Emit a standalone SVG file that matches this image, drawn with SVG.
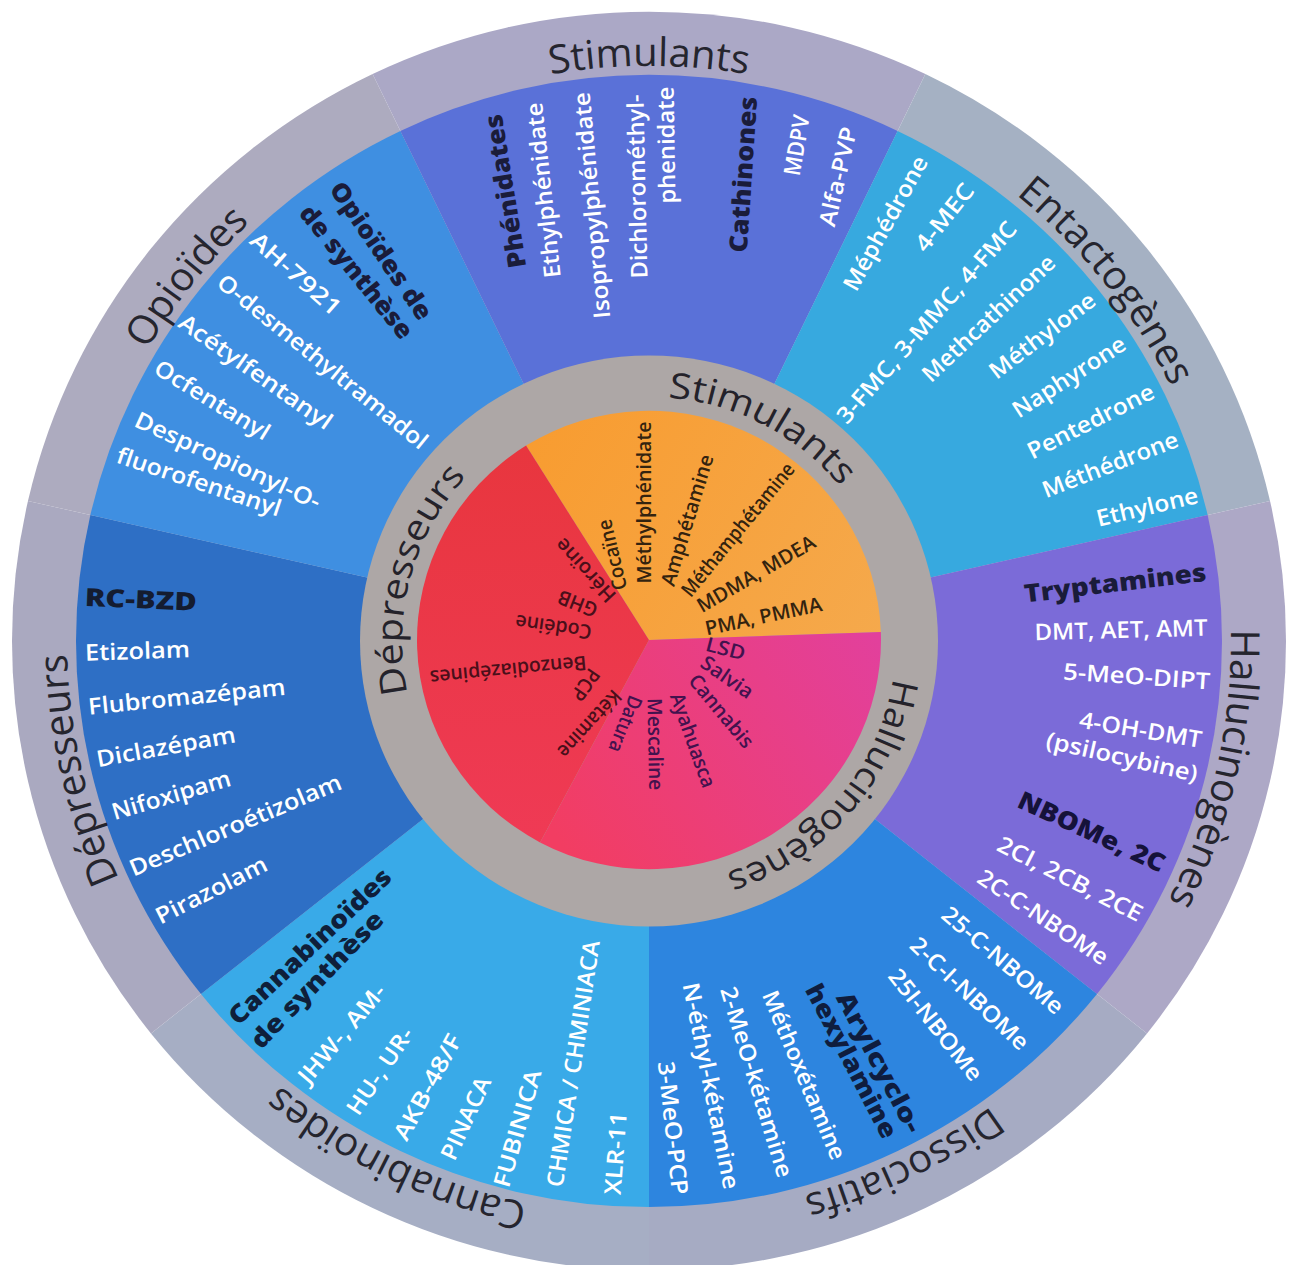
<svg xmlns="http://www.w3.org/2000/svg" width="1296" height="1265" viewBox="0 0 1296 1265">
<defs>
<style>
text{font-family:"Open Sans","Noto Sans","DejaVu Sans",sans-serif;}
.w{fill:#ffffff;font-size:23px;font-weight:600;text-anchor:middle;dominant-baseline:central;}
.h{fill:#1a1c3a;font-size:25px;font-weight:800;text-anchor:middle;dominant-baseline:central;}
.p{font-size:20px;font-weight:600;text-anchor:middle;dominant-baseline:central;}
.po{fill:#33230f;}
.pr{fill:#4a0f1a;}
.pp{fill:#43124e;}
.band{fill:#25252e;font-size:40px;font-weight:400;text-anchor:middle;}
.ring{fill:#24222a;font-size:36px;font-weight:400;text-anchor:middle;}
</style>
<linearGradient id="gOr" x1="520" y1="440" x2="880" y2="640" gradientUnits="userSpaceOnUse">
<stop offset="0" stop-color="#f89c30"/><stop offset="1" stop-color="#f5a94c"/>
</linearGradient>
<linearGradient id="gRd" x1="520" y1="440" x2="540" y2="845" gradientUnits="userSpaceOnUse">
<stop offset="0" stop-color="#e8363e"/><stop offset="1" stop-color="#ef3a55"/>
</linearGradient>
<linearGradient id="gPk" x1="880" y1="640" x2="560" y2="845" gradientUnits="userSpaceOnUse">
<stop offset="0" stop-color="#e2409c"/><stop offset="1" stop-color="#f23d62"/>
</linearGradient>
<path id="aStim" d="M75.84 742.06 A582 582 0 1 1 1222.16 742.06"/>
<path id="aEnt" d="M212.67 255.86 A582 582 0 1 1 927.38 1152.11"/>
<path id="aHal" d="M678.04 59.73 A582 582 0 1 1 422.86 1177.27"/>
<path id="aDis" d="M1121.57 301.29 A582 582 0 1 1 88.74 798.57"/>
<path id="aCan" d="M1209.26 798.58 A582 582 0 1 1 176.43 301.29"/>
<path id="aDep" d="M875.14 1177.27 A582 582 0 1 1 619.96 59.73"/>
<path id="aOpi" d="M370.62 1152.11 A582 582 0 1 1 1085.33 255.86"/>
<path id="iStim" d="M413.56 566.31 A247 247 0 1 1 844.70 791.71"/>
<path id="iDep" d="M627.47 887.06 A247 247 0 1 1 753.39 417.14"/>
<path id="iHal" d="M773.62 427.74 A247 247 0 1 1 458.96 798.78"/>
</defs>
<rect width="1296" height="1265" fill="#ffffff"/>
<g id="wheel" transform="matrix(1 0 0 0.988 0 7.692)">
<g id="outer-band">
<path d="M649 641 L649 1278 A637 637 0 0 1 150.97 1038.16 Z" fill="#a6aec4"/>
<path d="M649 641 L150.97 1038.16 A637 637 0 0 1 27.97 499.25 Z" fill="#aaa9c0"/>
<path d="M649 641 L27.97 499.25 A637 637 0 0 1 372.62 67.08 Z" fill="#adabbf"/>
<path d="M649 641 L372.62 67.08 A637 637 0 0 1 925.38 67.08 Z" fill="#aba8c6"/>
<path d="M649 641 L925.38 67.08 A637 637 0 0 1 1270.03 499.25 Z" fill="#a5b1c3"/>
<path d="M649 641 L1270.03 499.25 A637 637 0 0 1 1147.03 1038.16 Z" fill="#ada8c6"/>
<path d="M649 641 L1147.03 1038.16 A637 637 0 0 1 649 1278 Z" fill="#a6abc3"/>
</g>
<g id="sectors">
<path d="M649 641 L649 1214 A573 573 0 0 1 201.01 998.26 Z" fill="#39aae8"/>
<path d="M649 641 L201.01 998.26 A573 573 0 0 1 90.37 513.5 Z" fill="#2e6fc5"/>
<path d="M649 641 L90.37 513.5 A573 573 0 0 1 400.39 124.74 Z" fill="#3f8fe1"/>
<path d="M649 641 L400.39 124.74 A573 573 0 0 1 897.61 124.74 Z" fill="#5a71d8"/>
<path d="M649 641 L897.61 124.74 A573 573 0 0 1 1207.63 513.5 Z" fill="#37a9df"/>
<path d="M649 641 L1207.63 513.5 A573 573 0 0 1 1096.99 998.26 Z" fill="#7b6bd8"/>
<path d="M649 641 L1096.99 998.26 A573 573 0 0 1 649 1214 Z" fill="#2d85df"/>
</g>
<circle id="inner-ring" cx="649" cy="641" r="289" fill="#ada7a6"/>
<g id="pie">
<path d="M649 640 L526.06 443.25 A232 232 0 0 1 880.86 631.9 Z" fill="url(#gOr)"/>
<path d="M649 640 L880.86 631.9 A232 232 0 0 1 540.08 844.84 Z" fill="url(#gPk)"/>
<path d="M649 640 L540.08 844.84 A232 232 0 0 1 526.06 443.25 Z" fill="url(#gRd)"/>
</g>
<g id="band-labels">
<text class="band"><textPath href="#aStim" startOffset="50%">Stimulants</textPath></text>
<text class="band"><textPath href="#aEnt" startOffset="50%">Entactogènes</textPath></text>
<text class="band"><textPath href="#aHal" startOffset="50%">Hallucinogènes</textPath></text>
<text class="band"><textPath href="#aDis" startOffset="50%">Dissociatifs</textPath></text>
<text class="band"><textPath href="#aCan" startOffset="50%">Cannabinoïdes</textPath></text>
<text class="band"><textPath href="#aDep" startOffset="50%">Dépresseurs</textPath></text>
<text class="band"><textPath href="#aOpi" startOffset="50%">Opioïdes</textPath></text>
</g>
<g id="ring-labels">
<text class="ring"><textPath href="#iStim" startOffset="50%" textLength="200" lengthAdjust="spacingAndGlyphs">Stimulants</textPath></text>
<text class="ring"><textPath href="#iDep" startOffset="50%" textLength="236" lengthAdjust="spacingAndGlyphs">Dépresseurs</textPath></text>
<text class="ring"><textPath href="#iHal" startOffset="50%" textLength="272" lengthAdjust="spacingAndGlyphs">Hallucinogènes</textPath></text>
</g>
</g>
<g id="node-opioides">
<text class="h" transform="translate(382.2 250) rotate(55.6)" textLength="161" lengthAdjust="spacingAndGlyphs">Opioïdes de</text>
<text class="h" transform="translate(357.4 271.2) rotate(50.9)" textLength="164" lengthAdjust="spacingAndGlyphs">de synthèse</text>
<text class="w" transform="translate(296.5 273.2) rotate(41.4)" textLength="113" lengthAdjust="spacingAndGlyphs">AH-7921</text>
<text class="w" transform="translate(323.3 360.9) rotate(38.9)" textLength="263" lengthAdjust="spacingAndGlyphs">O-desmethyltramadol</text>
<text class="w" transform="translate(256.2 371) rotate(35.2)" textLength="182" lengthAdjust="spacingAndGlyphs">Acétylfentanyl</text>
<text class="w" transform="translate(212.8 399.2) rotate(31.6)" textLength="131" lengthAdjust="spacingAndGlyphs">Ocfentanyl</text>
<text class="w" transform="translate(228.3 459.7) rotate(24.7)" textLength="202" lengthAdjust="spacingAndGlyphs">Despropionyl-O-</text>
<text class="w" transform="translate(199.4 480.9) rotate(18.5)" textLength="172" lengthAdjust="spacingAndGlyphs">fluorofentanyl</text>
</g>
<g id="node-stimulants">
<text class="h" transform="translate(504.1 191.5) rotate(-99.2)" textLength="155" lengthAdjust="spacingAndGlyphs">Phénidates</text>
<text class="w" transform="translate(542.4 190.5) rotate(-96.1)" textLength="176" lengthAdjust="spacingAndGlyphs">Ethylphénidate</text>
<text class="w" transform="translate(590.9 205.6) rotate(-95.2)" textLength="227" lengthAdjust="spacingAndGlyphs">Isopropylphénidate</text>
<text class="w" transform="translate(636.4 186.5) rotate(-91.3)" textLength="184" lengthAdjust="spacingAndGlyphs">Dichlorométhyl-</text>
<text class="w" transform="translate(665.6 145.2) rotate(-91)" textLength="117" lengthAdjust="spacingAndGlyphs">phenidate</text>
<text class="h" transform="translate(742 174.4) rotate(-86.2)" textLength="156" lengthAdjust="spacingAndGlyphs">Cathinones</text>
<text class="w" transform="translate(795.8 145.2) rotate(-80.3)" textLength="61" lengthAdjust="spacingAndGlyphs">MDPV</text>
<text class="w" transform="translate(837 176.4) rotate(-77.1)" textLength="101" lengthAdjust="spacingAndGlyphs">Alfa-PVP</text>
</g>
<g id="node-entactogenes">
<text class="w" transform="translate(884.6 222.8) rotate(-61.1)" textLength="150" lengthAdjust="spacingAndGlyphs">Méphédrone</text>
<text class="w" transform="translate(943.5 216.8) rotate(-51.6)" textLength="80" lengthAdjust="spacingAndGlyphs">4-MEC</text>
<text class="w" transform="translate(925.9 321.6) rotate(-48.8)" textLength="260" lengthAdjust="spacingAndGlyphs">3-FMC, 3-MMC, 4-FMC</text>
<text class="w" transform="translate(987.9 317.6) rotate(-43.3)" textLength="173" lengthAdjust="spacingAndGlyphs">Methcathinone</text>
<text class="w" transform="translate(1041.6 334.7) rotate(-37.1)" textLength="127" lengthAdjust="spacingAndGlyphs">Méthylone</text>
<text class="w" transform="translate(1068.5 376) rotate(-32.8)" textLength="130" lengthAdjust="spacingAndGlyphs">Naphyrone</text>
<text class="w" transform="translate(1090.2 420.4) rotate(-26.8)" textLength="139" lengthAdjust="spacingAndGlyphs">Pentedrone</text>
<text class="w" transform="translate(1109.8 463.7) rotate(-21.3)" textLength="144" lengthAdjust="spacingAndGlyphs">Méthédrone</text>
<text class="w" transform="translate(1147 506) rotate(-13.4)" textLength="104" lengthAdjust="spacingAndGlyphs">Ethylone</text>
</g>
<g id="node-hallucinogenes">
<text class="h" transform="translate(1115 581.7) rotate(-6.9)" textLength="183" lengthAdjust="spacingAndGlyphs">Tryptamines</text>
<text class="w" transform="translate(1121 629) rotate(-1.5)" textLength="173" lengthAdjust="spacingAndGlyphs">DMT, AET, AMT</text>
<text class="w" transform="translate(1136.7 675.4) rotate(3.9)" textLength="147" lengthAdjust="spacingAndGlyphs">5-MeO-DIPT</text>
<text class="w" transform="translate(1140.8 728.8) rotate(9.4)" textLength="124" lengthAdjust="spacingAndGlyphs">4-OH-DMT</text>
<text class="w" transform="translate(1122.2 756) rotate(12.8)" textLength="155" lengthAdjust="spacingAndGlyphs">(psilocybine)</text>
<text class="h" transform="translate(1092.2 830.6) rotate(24.7)" textLength="159" lengthAdjust="spacingAndGlyphs" style="fill:#15123a">NBOMe, 2C</text>
<text class="w" transform="translate(1070.5 878) rotate(27)" textLength="160" lengthAdjust="spacingAndGlyphs">2CI, 2CB, 2CE</text>
<text class="w" transform="translate(1043.7 916.3) rotate(33.9)" textLength="152" lengthAdjust="spacingAndGlyphs">2C-C-NBOMe</text>
</g>
<g id="node-dissociatifs">
<text class="w" transform="translate(1003.4 959.6) rotate(40.5)" textLength="152" lengthAdjust="spacingAndGlyphs">25-C-NBOMe</text>
<text class="w" transform="translate(970.3 992.9) rotate(43.2)" textLength="153" lengthAdjust="spacingAndGlyphs">2-C-I-NBOMe</text>
<text class="w" transform="translate(936.3 1024.1) rotate(51.6)" textLength="136" lengthAdjust="spacingAndGlyphs">25I-NBOMe</text>
<text class="h" transform="translate(880.5 1061.5) rotate(62.2)" textLength="155" lengthAdjust="spacingAndGlyphs" style="fill:#0f1d3e">Arylcyclo-</text>
<text class="h" transform="translate(852.6 1060.4) rotate(62.6)" textLength="170" lengthAdjust="spacingAndGlyphs" style="fill:#0f1d3e">hexylamine</text>
<text class="w" transform="translate(805 1074.6) rotate(67.2)" textLength="181" lengthAdjust="spacingAndGlyphs">Méthoxétamine</text>
<text class="w" transform="translate(757.5 1081.6) rotate(73)" textLength="198" lengthAdjust="spacingAndGlyphs">2-MeO-kétamine</text>
<text class="w" transform="translate(712 1085.7) rotate(78.6)" textLength="210" lengthAdjust="spacingAndGlyphs">N-éthyl-kétamine</text>
<text class="w" transform="translate(673.9 1128) rotate(83.8)" textLength="134" lengthAdjust="spacingAndGlyphs">3-MeO-PCP</text>
</g>
<g id="node-cannabinoides">
<text class="h" transform="translate(308.9 945.5) rotate(-43.5)" textLength="214" lengthAdjust="spacingAndGlyphs" style="fill:#0f1f3a">Cannabinoïdes</text>
<text class="h" transform="translate(316.1 978.8) rotate(-46.1)" textLength="179" lengthAdjust="spacingAndGlyphs" style="fill:#0f1f3a">de synthèse</text>
<text class="w" transform="translate(341 1033.2) rotate(-49.8)" textLength="122" lengthAdjust="spacingAndGlyphs">JHW-, AM-</text>
<text class="w" transform="translate(379.1 1070.5) rotate(-55.9)" textLength="100" lengthAdjust="spacingAndGlyphs">HU-, UR-</text>
<text class="w" transform="translate(426.7 1086.6) rotate(-61.5)" textLength="117" lengthAdjust="spacingAndGlyphs">AKB-48/F</text>
<text class="w" transform="translate(464.9 1117.9) rotate(-65.2)" textLength="89" lengthAdjust="spacingAndGlyphs">PINACA</text>
<text class="w" transform="translate(516.5 1128) rotate(-74.2)" textLength="121" lengthAdjust="spacingAndGlyphs">FUBINICA</text>
<text class="w" transform="translate(572.3 1063.5) rotate(-81.4)" textLength="249" lengthAdjust="spacingAndGlyphs">CHMICA / CHMINIACA</text>
<text class="w" transform="translate(614.7 1153.2) rotate(-85.7)" textLength="83" lengthAdjust="spacingAndGlyphs">XLR-11</text>
</g>
<g id="node-depresseurs">
<text class="h" transform="translate(140.8 598.3) rotate(2.4)" textLength="112" lengthAdjust="spacingAndGlyphs" style="fill:#141c30">RC-BZD</text>
<text class="w" transform="translate(137.5 650) rotate(-1.9)" textLength="105" lengthAdjust="spacingAndGlyphs">Etizolam</text>
<text class="w" transform="translate(186.7 695.8) rotate(-5.8)" textLength="198" lengthAdjust="spacingAndGlyphs">Flubromazépam</text>
<text class="w" transform="translate(165.8 745.8) rotate(-10.2)" textLength="141" lengthAdjust="spacingAndGlyphs">Diclazépam</text>
<text class="w" transform="translate(170.8 794.2) rotate(-16.5)" textLength="123" lengthAdjust="spacingAndGlyphs">Nifoxipam</text>
<text class="w" transform="translate(235 824.2) rotate(-22.8)" textLength="228" lengthAdjust="spacingAndGlyphs">Deschloroétizolam</text>
<text class="w" transform="translate(210.8 889.2) rotate(-26.9)" textLength="122" lengthAdjust="spacingAndGlyphs">Pirazolam</text>
</g>
<g id="node-pie-stimulants">
<text class="p po" transform="translate(611.7 555) rotate(-103.4)" textLength="72" lengthAdjust="spacingAndGlyphs">Cocaïne</text>
<text class="p po" transform="translate(643 502.5) rotate(-90)" textLength="162" lengthAdjust="spacingAndGlyphs">Méthylphénidate</text>
<text class="p po" transform="translate(686.7 520) rotate(-73)" textLength="136" lengthAdjust="spacingAndGlyphs">Amphétamine</text>
<text class="p po" transform="translate(737.5 529.2) rotate(-50.7)" textLength="166" lengthAdjust="spacingAndGlyphs">Méthamphétamine</text>
<text class="p po" transform="translate(755.8 573.3) rotate(-30.1)" textLength="133" lengthAdjust="spacingAndGlyphs">MDMA, MDEA</text>
<text class="p po" transform="translate(763.3 615.8) rotate(-12.1)" textLength="119" lengthAdjust="spacingAndGlyphs">PMA, PMMA</text>
</g>
<g id="node-pie-hallucinogenes">
<text class="p pp" transform="translate(725.8 648.3) rotate(14.6)" textLength="40" lengthAdjust="spacingAndGlyphs">LSD</text>
<text class="p pp" transform="translate(727.5 676.7) rotate(34.6)" textLength="59" lengthAdjust="spacingAndGlyphs">Salvia</text>
<text class="p pp" transform="translate(721.7 710.8) rotate(50.3)" textLength="89" lengthAdjust="spacingAndGlyphs">Cannabis</text>
<text class="p pp" transform="translate(693.3 740) rotate(70.4)" textLength="99" lengthAdjust="spacingAndGlyphs">Ayahuasca</text>
<text class="p pp" transform="translate(655.8 744.2) rotate(89)" textLength="92" lengthAdjust="spacingAndGlyphs">Mescaline</text>
<text class="p pp" transform="translate(625.8 724.2) rotate(111.5)" textLength="59" lengthAdjust="spacingAndGlyphs">Datura</text>
</g>
<g id="node-pie-depresseurs">
<text class="p pr" transform="translate(590 724.2) rotate(132.5)" textLength="84" lengthAdjust="spacingAndGlyphs">Kétamine</text>
<text class="p pr" transform="translate(585.8 685) rotate(125)" textLength="34" lengthAdjust="spacingAndGlyphs">PCP</text>
<text class="p pr" transform="translate(508.3 670.8) rotate(174.5)" textLength="157" lengthAdjust="spacingAndGlyphs">Benzodiazépines</text>
<text class="p pr" transform="translate(553.3 627.5) rotate(188)" textLength="77" lengthAdjust="spacingAndGlyphs">Codéine</text>
<text class="p pr" transform="translate(577.5 604.2) rotate(201.3)" textLength="41" lengthAdjust="spacingAndGlyphs">GHB</text>
<text class="p pr" transform="translate(585 570.8) rotate(227.5)" textLength="79" lengthAdjust="spacingAndGlyphs">Héroïne</text>
</g>
<g id="connectors"/>
</svg>
